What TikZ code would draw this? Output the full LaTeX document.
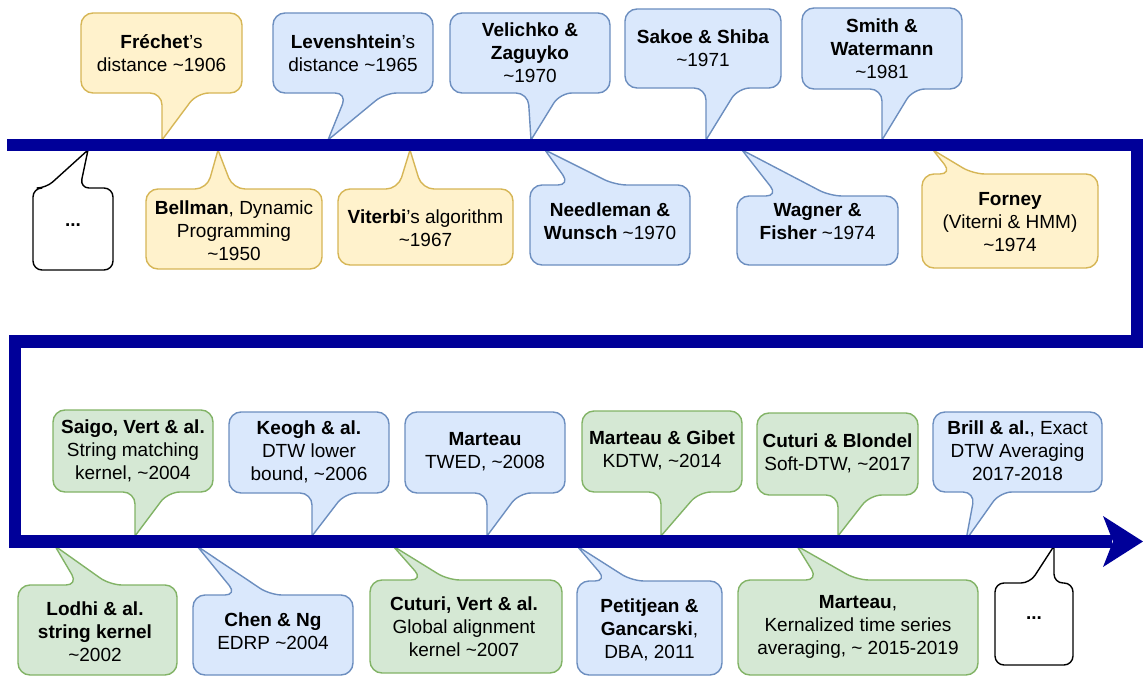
\documentclass[tikz,border=0pt]{standalone}
\usepackage{fontspec}
\setmainfont{Liberation Sans}
\definecolor{navy}{HTML}{000099}
\definecolor{bfill}{HTML}{DAE8FC}
\definecolor{bline}{HTML}{6C8EBF}
\definecolor{yfill}{HTML}{FFF2CC}
\definecolor{yline}{HTML}{D6B656}
\definecolor{gfill}{HTML}{D5E8D4}
\definecolor{gline}{HTML}{82B366}
\newcommand\tld{\textasciitilde}
% callout with pointer on its lower edge: style, x1, y1, x2, y2, base1, base2, tipx, tipy
\newcommand\coDown[9]{\path[#1] (#8,#9) -- (#7,#5) -- (#4,#5) -- (#4,#3) -- (#2,#3) -- (#2,#5) -- (#6,#5) -- (#8,#9);}
% callout with pointer on its upper edge
\newcommand\coUp[9]{\path[#1] (#8,#9) -- (#7,#3) -- (#4,#3) -- (#4,#5) -- (#2,#5) -- (#2,#3) -- (#6,#3) -- (#8,#9);}
\begin{document}
\begin{tikzpicture}[x=1pt,y=-1pt,
  co/.style={line width=1.4pt, rounded corners=12pt, line join=round, line cap=round},
  blueco/.style={co, fill=bfill, draw=bline},
  yellowco/.style={co, fill=yfill, draw=yline},
  greenco/.style={co, fill=gfill, draw=gline},
  dotsco/.style={co, rounded corners=9pt, fill=white, draw=black},
  txt/.style={font=\fontsize{19}{23}\selectfont, align=center, inner sep=0pt, text=black},
  timeline/.style={draw=navy, line width=12.5pt, line join=miter}]
\useasboundingbox (0,0) rectangle (1143,677);

% ---- top row (above first line)
\coDown{yellowco}{81}{13}{242}{93}{162}{197}{162}{140}
\node[txt] (frechet) at (161.5,53.5) {\textbf{Fréchet}'s\\distance \tld1906};
\coDown{blueco}{273}{13}{433}{93}{347}{385}{328}{140}
\node[txt] (leven) at (353,53.5) {\textbf{Levenshtein}'s\\distance \tld1965};
\coDown{blueco}{450}{13}{610}{93}{528}{560}{531}{140}
\node[txt] (velichko) at (530,53) {\textbf{Velichko \&}\\\textbf{Zaguyko}\\\tld1970};
\coDown{blueco}{625}{9}{781}{88}{706}{738}{706}{140}
\node[txt] (sakoe) at (703,48.5) {\textbf{Sakoe \& Shiba}\\\tld1971};
\coDown{blueco}{802}{8}{962}{89}{882}{913}{882}{140}
\node[txt] (smith) at (882,48.5) {\textbf{Smith \&}\\\textbf{Watermann}\\\tld1981};

% ---- second row (below first line)
\coUp{dotsco}{33}{188}{113}{270}{46}{80}{88}{150}
\node[txt] (dotsA) at (73,225) {\textbf{...}};
\coUp{yellowco}{146}{189}{322}{269}{207}{233}{218}{150}
\node[txt] (bellman) at (234,231) {\textbf{Bellman}, Dynamic\\Programming\\\tld1950};
\coUp{yellowco}{338}{189}{513}{265}{398}{422}{410}{150}
\node[txt] (viterbi) at (425.5,228) {\textbf{Viterbi}'s algorithm\\\tld1967};
\coUp{blueco}{530}{185}{690}{265}{570}{615}{545}{150}
\node[txt] (needle) at (610,221.5) {\textbf{Needleman \&}\\\textbf{Wunsch} \tld1970};
\coUp{blueco}{737}{196}{898}{265}{778}{830}{742}{150}
\node[txt] (wagner) at (817.5,221.5) {\textbf{Wagner \&}\\\textbf{Fisher} \tld1974};
\coUp{yellowco}{922}{174}{1098}{268}{952}{973}{933}{150}
\node[txt] (forney) at (1010,222) {\textbf{Forney}\\(Viterni \& HMM)\\\tld1974};

% ---- third row (above last line)
\coDown{greenco}{53}{410}{213}{492}{135}{168}{135}{536}
\node[txt] (saigo) at (133,451) {\textbf{Saigo, Vert \& al.}\\String matching\\kernel, \tld2004};
\coDown{blueco}{229}{412}{389}{493}{312}{345}{312}{536}
\node[txt] (keogh) at (309,452) {\textbf{Keogh \& al.}\\DTW lower\\bound, \tld2006};
\coDown{blueco}{405}{412}{565}{493}{487}{519}{487}{536}
\node[txt] (twed) at (485,451.5) {\textbf{Marteau}\\TWED, \tld2008};
\coDown{greenco}{582}{411}{742}{492}{661}{699}{661}{536}
\node[txt] (gibet) at (662,450.5) {\textbf{Marteau \& Gibet}\\KDTW, \tld2014};
\coDown{greenco}{757}{413}{918}{495}{838}{870}{838}{536}
\node[txt] (blondel) at (837.5,453.5) {\textbf{Cuturi \& Blondel}\\Soft-DTW, \tld2017};
\coDown{blueco}{933}{412}{1102}{492}{975}{1000}{966}{540}
\node[txt] (brill) at (1017.5,450.5) {\textbf{Brill \& al.}, Exact\\DTW Averaging\\2017-2018};

% ---- fourth row (below last line)
\coUp{greenco}{18}{585}{177}{675}{78}{110}{55}{546}
\node[txt] (lodhi) at (95,632) {\textbf{Lodhi \& al.}\\\textbf{string kernel}\\\tld2002};
\coUp{blueco}{193}{595}{353}{675}{237}{270}{197}{546}
\node[txt] (chen) at (273,631.5) {\textbf{Chen \& Ng}\\EDRP \tld2004};
\coUp{greenco}{370}{580}{562}{673}{423}{448}{393}{546}
\node[txt] (cvert) at (464,627) {\textbf{Cuturi, Vert \& al.}\\Global alignment\\kernel \tld2007};
\coUp{blueco}{577}{581}{722}{675}{607}{632}{577}{546}
\node[txt] (petit) at (649.5,630) {\textbf{Petitjean \&}\\\textbf{Gancarski},\\DBA, 2011};
\coUp{greenco}{738}{580}{978}{675}{818}{857}{797}{546}
\node[txt] (martk) at (858,627) {\textbf{Marteau},\\Kernalized time series\\averaging, \tld{} 2015-2019};
\coUp{dotsco}{995}{583}{1073}{665}{1030}{1054}{1054}{546}
\node[txt] (dotsB) at (1034,618) {\textbf{...}};

% ---- timeline
\coordinate (s0) at (7,145);
\coordinate (s1) at (1137,145);
\coordinate (s2) at (1137,341.5);
\coordinate (s3) at (15,341.5);
\coordinate (s4) at (15,541.5);
\coordinate (s5) at (1112,541.5);
\coordinate (tipA) at (1143,541.5);
\draw[timeline] (s0) -- (s1) -- (s2) -- (s3) -- (s4) -- (s5);
\fill[navy] (tipA) -- (1103,516) -- (1113,541.5) -- (1103,567) -- cycle;
\end{tikzpicture}
\end{document}
